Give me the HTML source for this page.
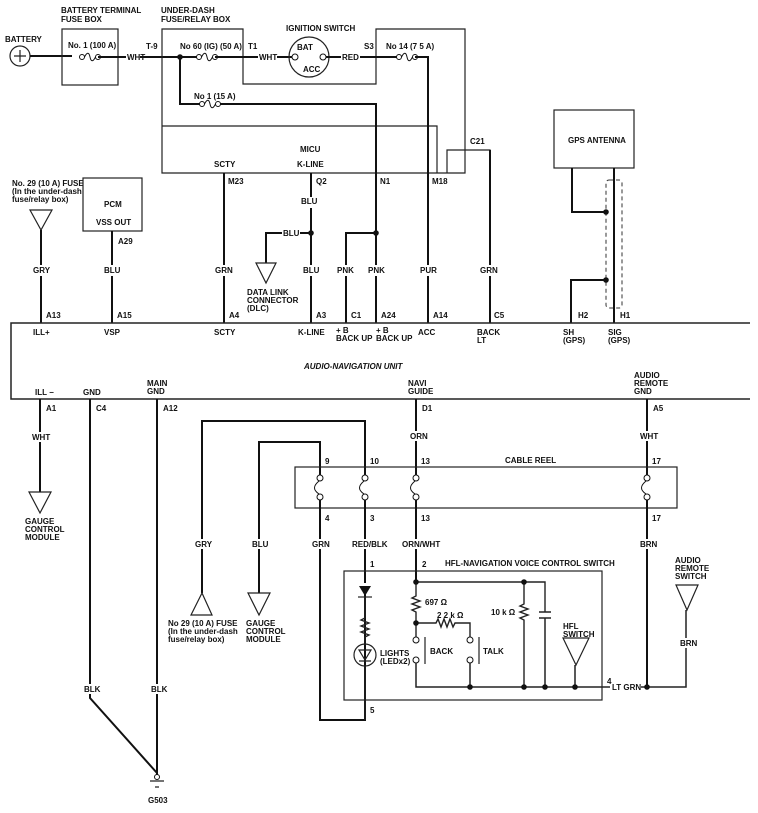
<!DOCTYPE html>
<html><head><meta charset="utf-8"><style>
html,body{margin:0;padding:0;background:#fff;}
svg{display:block;}
text{font-family:"Liberation Sans",Arial,sans-serif;font-weight:bold;font-size:8px;fill:#111;}
.w{stroke:#111;stroke-width:2;fill:none;}
.t{stroke:#222;stroke-width:1.2;fill:none;}
</style></head><body>
<svg width="758" height="813" viewBox="0 0 758 813" xmlns="http://www.w3.org/2000/svg">
<defs>
<g id="fuse"><circle cx="-8" cy="0" r="2.5" fill="#fff" stroke="#111" stroke-width="1"/><circle cx="8" cy="0" r="2.5" fill="#fff" stroke="#111" stroke-width="1"/><path d="M-5.5,0 C-3,-5 -1,-5 0,0 C1,5 3,5 5.5,0" fill="none" stroke="#111" stroke-width="1"/></g>
<g id="rsw"><circle cx="0" cy="0" r="3" fill="#fff" stroke="#111" stroke-width="1"/><circle cx="0" cy="19" r="3" fill="#fff" stroke="#111" stroke-width="1"/><path d="M-1,3 C-7,8 -7,12 -1,16" fill="none" stroke="#111" stroke-width="1"/></g>
<g id="dot"><circle r="2.8" fill="#111"/></g>
</defs>

<!-- battery -->
<circle cx="20" cy="56" r="10" class="t"/>
<path d="M14,56h12M20,50v12" class="t"/>
<path d="M30,56H72" class="w"/>
<rect x="62" y="29" width="56" height="56" class="t"/>
<use href="#fuse" x="90" y="57"/>
<path d="M98,57H126M140,57H198" class="w"/>
<text x="5" y="42">BATTERY</text>
<text x="61" y="13">BATTERY TERMINAL</text><text x="61" y="22">FUSE BOX</text>
<text x="68" y="48">No. 1 (100 A)</text>
<text x="127" y="60">WHT</text>
<text x="146" y="49">T-9</text>

<!-- under-dash box -->
<path d="M162,126V29H243V84H376V29H465V173H162V126H437V173" class="t"/>
<text x="161" y="13">UNDER-DASH</text><text x="161" y="22">FUSE/RELAY BOX</text>
<text x="180" y="49">No  60 (IG) (50 A)</text>
<use href="#fuse" x="207" y="57"/>
<path d="M215,57H258M277,57H292" class="w"/>
<use href="#dot" x="180" y="57"/>
<path d="M180,57V104H202M218,104H376V323" class="w"/>
<use href="#fuse" x="210" y="104"/>
<text x="194" y="99">No  1 (15 A)</text>
<text x="248" y="49">T1</text>
<text x="259" y="60">WHT</text>
<text x="286" y="31">IGNITION SWITCH</text>
<circle cx="309" cy="57" r="20" class="t"/>
<circle cx="295" cy="57" r="3" fill="#fff" stroke="#111"/>
<circle cx="323" cy="57" r="3" fill="#fff" stroke="#111"/>
<text x="297" y="50">BAT</text><text x="303" y="72">ACC</text>
<path d="M326,57H341M360,57H399" class="w"/>
<text x="342" y="60">RED</text>
<text x="364" y="49">S3</text>
<use href="#fuse" x="407" y="57"/>
<text x="386" y="49">No  14 (7 5 A)</text>
<path d="M415,57H428V323" class="w"/>
<text x="300" y="152">MICU</text>
<text x="214" y="167">SCTY</text><text x="297" y="167">K-LINE</text>
<text x="470" y="144">C21</text>
<path d="M447,173V150H490V323" class="t"/>
<path d="M490,150V323" class="w"/>

<!-- MICU outputs -->
<path d="M224,173V323M311,173V323M376,233H346V323" class="w"/>
<text x="228" y="184">M23</text><text x="316" y="184">Q2</text><text x="380" y="184">N1</text><text x="432" y="184">M18</text>
<text x="301" y="204">BLU</text>
<use href="#dot" x="311" y="233"/><use href="#dot" x="376" y="233"/>
<path d="M311,233H300M282,233H266V263" class="w"/>
<text x="283" y="236">BLU</text>
<path d="M256,263H276L266,283Z" class="t"/>
<text x="247" y="295">DATA LINK</text><text x="247" y="303">CONNECTOR</text><text x="247" y="311">(DLC)</text>

<!-- left top -->
<text x="12" y="186">No. 29 (10 A) FUSE</text><text x="12" y="194">(In the under-dash</text><text x="12" y="202">fuse/relay box)</text>
<path d="M30,210H52L41,230Z" class="t"/>
<path d="M41,230V323" class="w"/>
<rect x="83" y="178" width="59" height="53" class="t"/>
<text x="104" y="207">PCM</text><text x="96" y="225">VSS OUT</text>
<path d="M112,231V323" class="w"/>
<text x="118" y="244">A29</text>

<!-- wire colour labels row -->
<g fill="#fff"><rect x="30" y="265" width="22" height="11"/><rect x="101" y="265" width="22" height="11"/><rect x="212" y="265" width="22" height="11"/><rect x="300" y="265" width="22" height="11"/><rect x="334" y="265" width="22" height="11"/><rect x="365" y="265" width="22" height="11"/><rect x="417" y="265" width="22" height="11"/><rect x="477" y="265" width="22" height="11"/><rect x="300" y="197" width="22" height="11"/></g>
<text x="33" y="273">GRY</text><text x="104" y="273">BLU</text><text x="215" y="273">GRN</text><text x="303" y="273">BLU</text><text x="337" y="273">PNK</text><text x="368" y="273">PNK</text><text x="420" y="273">PUR</text><text x="480" y="273">GRN</text>
<text x="301" y="204">BLU</text>
<text x="46" y="318">A13</text><text x="117" y="318">A15</text><text x="229" y="318">A4</text><text x="316" y="318">A3</text><text x="351" y="318">C1</text><text x="381" y="318">A24</text><text x="433" y="318">A14</text><text x="494" y="318">C5</text>

<!-- GPS -->
<rect x="554" y="110" width="80" height="58" class="t"/>
<text x="568" y="143">GPS ANTENNA</text>
<rect x="606" y="180" width="16" height="128" rx="3" fill="none" stroke="#333" stroke-width="1" stroke-dasharray="4,3"/>
<path d="M572,168V212H606M614,168V323M571,323V280H606" class="w"/>
<use href="#dot" x="606" y="212"/><use href="#dot" x="606" y="280"/>
<text x="578" y="318">H2</text><text x="620" y="318">H1</text>

<!-- unit -->
<path d="M750,323H11V399H750" class="t" style="stroke-width:1.5"/>
<text x="33" y="335">ILL+</text><text x="104" y="335">VSP</text><text x="214" y="335">SCTY</text><text x="298" y="335">K-LINE</text>
<text x="336" y="333">+ B</text><text x="336" y="341">BACK UP</text><text x="376" y="333">+ B</text><text x="376" y="341">BACK UP</text>
<text x="418" y="335">ACC</text><text x="477" y="335">BACK</text><text x="477" y="343">LT</text>
<text x="563" y="335">SH</text><text x="563" y="343">(GPS)</text><text x="608" y="335">SIG</text><text x="608" y="343">(GPS)</text>
<text x="304" y="369" font-style="italic">AUDIO-NAVIGATION UNIT</text>
<text x="35" y="395">ILL −</text><text x="83" y="395">GND</text>
<text x="147" y="386">MAIN</text><text x="147" y="394">GND</text>
<text x="408" y="386">NAVI</text><text x="408" y="394">GUIDE</text>
<text x="634" y="378">AUDIO</text><text x="634" y="386">REMOTE</text><text x="634" y="394">GND</text>

<!-- lower wires -->
<path d="M40,399V492M90,399V698L157,773M157,399V775" class="w"/>
<text x="46" y="411">A1</text><text x="96" y="411">C4</text><text x="163" y="411">A12</text>
<text x="422" y="411">D1</text><text x="653" y="411">A5</text>
<rect x="30" y="432" width="22" height="10" fill="#fff"/><text x="32" y="440">WHT</text>
<path d="M29,492H51L40,513Z" class="t"/>
<text x="25" y="524">GAUGE</text><text x="25" y="532">CONTROL</text><text x="25" y="540">MODULE</text>
<rect x="80" y="684" width="22" height="10" fill="#fff"/><rect x="147" y="684" width="22" height="10" fill="#fff"/>
<text x="84" y="692">BLK</text><text x="151" y="692">BLK</text>
<circle cx="157" cy="777" r="2.5" fill="#fff" stroke="#111"/>
<path d="M150,781H164M155,787H159" class="t"/>
<text x="148" y="803">G503</text>

<path d="M202,593V421H365V477M259,593V442H320V477" class="w"/>
<path d="M191,615H212L202,593Z" class="t"/>
<path d="M248,593H270L259,615Z" class="t"/>
<rect x="192" y="539" width="22" height="10" fill="#fff"/><rect x="249" y="539" width="22" height="10" fill="#fff"/>
<text x="195" y="547">GRY</text><text x="252" y="547">BLU</text>
<text x="168" y="626">No  29 (10 A) FUSE</text><text x="168" y="634">(In the under-dash</text><text x="168" y="642">fuse/relay box)</text>
<text x="246" y="626">GAUGE</text><text x="246" y="634">CONTROL</text><text x="246" y="642">MODULE</text>

<!-- cable reel -->
<path d="M416,399V477M647,399V477" class="w"/>
<rect x="408" y="431" width="20" height="10" fill="#fff"/><rect x="637" y="431" width="22" height="10" fill="#fff"/>
<text x="410" y="439">ORN</text><text x="640" y="439">WHT</text>
<rect x="295" y="467" width="382" height="41" class="t"/>
<use href="#rsw" x="320" y="478"/><use href="#rsw" x="365" y="478"/><use href="#rsw" x="416" y="478"/><use href="#rsw" x="647" y="478"/>
<text x="325" y="464">9</text><text x="370" y="464">10</text><text x="421" y="464">13</text><text x="652" y="464">17</text>
<text x="505" y="463">CABLE REEL</text>
<text x="325" y="521">4</text><text x="370" y="521">3</text><text x="421" y="521">13</text><text x="652" y="521">17</text>
<path d="M320,500V720H365V590M365,500V583M416,500V582M647,500V687" class="w"/>
<rect x="310" y="539" width="22" height="10" fill="#fff"/><rect x="350" y="539" width="34" height="10" fill="#fff"/><rect x="400" y="539" width="40" height="10" fill="#fff"/><rect x="637" y="539" width="22" height="10" fill="#fff"/>
<text x="312" y="547">GRN</text><text x="352" y="547">RED/BLK</text><text x="402" y="547">ORN/WHT</text><text x="640" y="547">BRN</text>

<!-- HFL switch box -->
<rect x="344" y="571" width="258" height="129" class="t"/>
<text x="370" y="567">1</text><text x="422" y="567">2</text>
<text x="445" y="566">HFL-NAVIGATION VOICE CONTROL SWITCH</text>
<path d="M359,586H371L365,596Z" fill="#111"/><path d="M358,597H372" class="t"/>
<path d="M365,597V618l-4,2 8,3 -8,3 8,3 -8,3 8,3 -4,2V644M365,666V720" class="t" style="stroke-width:1.4"/>
<circle cx="365" cy="655" r="11" class="t"/>
<path d="M359,650H371L365,660Z M359,661H371" class="t"/>
<text x="380" y="656">LIGHTS</text><text x="380" y="664">(LEDx2)</text>
<text x="370" y="713">5</text>
<path d="M416,582H545V612M416,582V596l-4,2 8,3 -8,3 8,3 -8,3 4,2V637M416,623H436l2,-4 3,8 3,-8 3,8 3,-8 3,8 2,-4H470V637" class="t" style="stroke-width:1.4"/>
<path d="M539,612H551M539,618H551M545,618V687" class="t" style="stroke-width:1.5"/>
<path d="M524,582V604l-4,2 8,3 -8,3 8,3 -8,3 4,2V687" class="t" style="stroke-width:1.4"/>
<use href="#dot" x="416" y="582"/><use href="#dot" x="524" y="582"/><use href="#dot" x="416" y="623"/>
<text x="425" y="605">697 Ω</text><text x="437" y="618">2 2 k Ω</text><text x="491" y="615">10 k Ω</text>
<circle cx="416" cy="640" r="3" fill="#fff" stroke="#111"/><circle cx="416" cy="660" r="3" fill="#fff" stroke="#111"/>
<circle cx="470" cy="640" r="3" fill="#fff" stroke="#111"/><circle cx="470" cy="660" r="3" fill="#fff" stroke="#111"/>
<path d="M425,637V664M479,637V664" class="t"/>
<text x="430" y="654">BACK</text><text x="483" y="654">TALK</text>
<path d="M416,663V687H610M470,663V687M575,665V687M641,687H686V610" class="t" style="stroke-width:1.5"/>
<use href="#dot" x="470" y="687"/><use href="#dot" x="524" y="687"/><use href="#dot" x="545" y="687"/><use href="#dot" x="575" y="687"/><use href="#dot" x="647" y="687"/>
<path d="M563,638H589L576,665Z" class="t"/>
<text x="563" y="629">HFL</text><text x="563" y="637">SWITCH</text>
<text x="607" y="684">4</text><text x="612" y="690">LT GRN</text>
<path d="M676,585H698L687,610Z" class="t"/>
<text x="675" y="563">AUDIO</text><text x="675" y="571">REMOTE</text><text x="675" y="579">SWITCH</text>
<rect x="677" y="638" width="22" height="10" fill="#fff"/><text x="680" y="646">BRN</text>
</svg>
</body></html>
